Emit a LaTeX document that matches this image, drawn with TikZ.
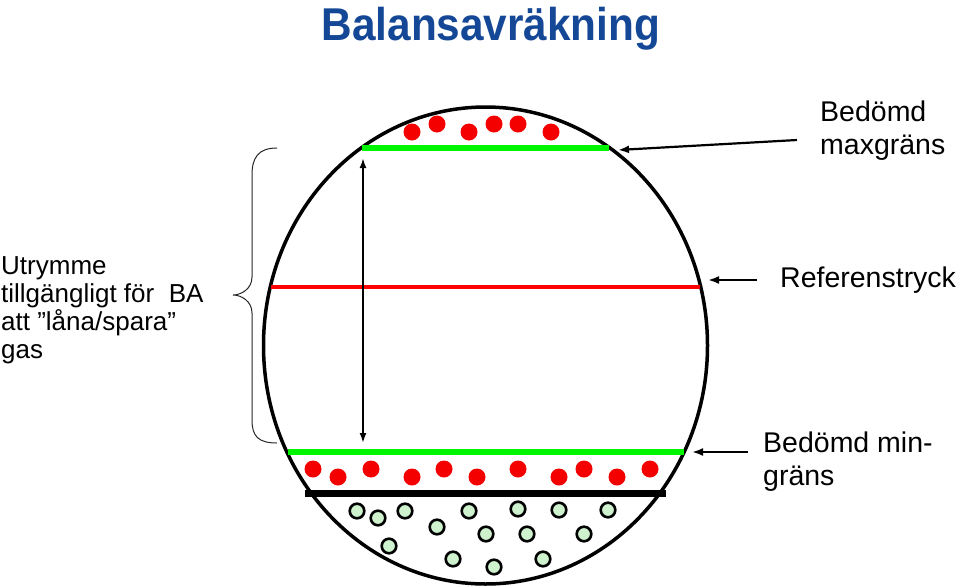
\documentclass[tikz,border=0pt]{standalone}
\usepackage{fontspec}
\setmainfont{Liberation Sans}
\newfontfamily\titlefont{Liberation Sans Bold}[FakeStretch=0.92]
\usetikzlibrary{arrows.meta, shapes.geometric}
\definecolor{titleblue}{RGB}{20,72,150}
\definecolor{limitgreen}{RGB}{0,245,0}
\definecolor{gasgreen}{RGB}{205,242,205}
\definecolor{dotred}{RGB}{245,0,0}

\begin{document}
\begin{tikzpicture}[x=1pt, y=-1pt,
  sidetext/.style={inner sep=0pt, align=left, anchor=north west,
                   font=\fontsize{28.5}{33}\selectfont},
  pointer/.style={-{Latex[length=11pt,width=8pt]}, line width=2.2pt},
  limitline/.style={limitgreen, line width=6.5pt},
  reddot/.style={fill=dotred},
  gasdot/.style={fill=gasgreen, draw=black, line width=2.6pt}
]
\useasboundingbox (0,0) rectangle (959,587);

% title
\node[font=\titlefont\fontsize{46}{50}\selectfont, text=titleblue, anchor=base]
  (title) at (491,40) {Balansavräkning};

% storage
\node[draw, ellipse, line width=3.5pt, minimum width=444pt, minimum height=477pt,
  inner sep=0pt] (tank) at (485.5,345.5) {};

\draw[limitline] (362,148) -- (609,148);
\draw[red, line width=4.5pt] (271,287) -- (700,287);
\draw[limitline] (288,452) -- (684,452);
\draw[line width=7pt] (305,493) -- (666,493);

% dots
\foreach \x/\y in {412/132, 437/124, 469/132, 494/124, 518/124, 551/132}
  \fill[reddot] (\x,\y) circle (8.5pt);
\foreach \x/\y in {313/469, 338/477, 371/469, 412/477, 444/469, 477/477,
                   518/469, 559/477, 584/469, 617/477, 650/469}
  \fill[reddot] (\x,\y) circle (8.5pt);
\foreach \x/\y in {357/511, 378/518, 405/511, 389/546, 437/527, 469/511,
                   453/559, 486/534, 494/567, 518/509, 527/534, 559/510,
                   543/559, 584/534, 608/510}
  \filldraw[gasdot] (\x,\y) circle (7.3pt);

% range arrow
\coordinate (rangetop) at (363,158);
\coordinate (rangebot) at (363,443);
\draw[{Latex[length=10pt,width=7pt]}-{Latex[length=10pt,width=7pt]}, line width=2pt]
  (rangetop) -- (rangebot);

% brace
\draw[line width=1pt, black!85]
  (277,148) .. controls (258,148) and (252,158) .. (252,175) -- (252,277)
  .. controls (252,289) and (241,295) .. (233,295)
  .. controls (241,295) and (252,301) .. (252,313) -- (252,420)
  .. controls (252,436) and (258,443) .. (277,443);

% labels
\node[sidetext, font=\fontsize{26}{28}\selectfont] (space) at (1,256)
  {Utrymme\\tillgängligt för\ \ BA\\att ”låna/spara”\\gas};
\node[sidetext] (maxlbl) at (820,101) {Bedömd\\maxgräns};
\node[sidetext] (reflbl) at (780,267) {Referenstryck};
\node[sidetext] (minlbl) at (763,432) {Bedömd min-\\gräns};

\coordinate (maxfrom) at (797,140);
\coordinate (maxto) at (618,150);
\coordinate (reffrom) at (757,280);
\coordinate (refto) at (708,280);
\coordinate (minfrom) at (748,452);
\coordinate (minto) at (692,452);
\draw[pointer] (maxfrom) -- (maxto);
\draw[pointer] (reffrom) -- (refto);
\draw[pointer] (minfrom) -- (minto);

\end{tikzpicture}
\end{document}
